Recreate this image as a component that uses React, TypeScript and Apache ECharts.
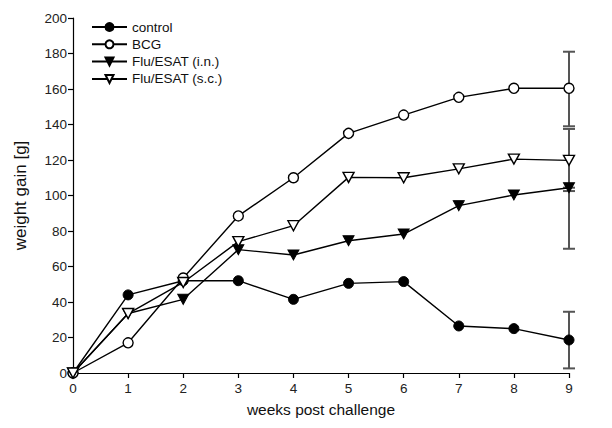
import React, { useEffect, useRef } from "react";
import * as echarts from "echarts";

const weeks = [0, 1, 2, 3, 4, 5, 6, 7, 8, 9];
const control = [0, 44, 52, 52, 41.5, 50.5, 51.5, 26.5, 25, 18.6];
const bcg = [0, 17, 53.5, 88.5, 110, 135, 145.3, 155.3, 160.4, 160.4];
const fluIn = [0, 33.5, 41.5, 69.5, 66.5, 74.5, 78.3, 94.3, 100.3, 104.4];
const fluSc = [0, 33.5, 51, 74, 83, 110.2, 110, 115, 120.5, 119.8];

// error bars at week 9: [week, low, high]
const errorBars = [
  [9, 2.6, 34.5],
  [9, 139, 181],
  [9, 102.5, 137.5],
  [9, 70, 104.4],
];

const seriesNames = ["control", "BCG", "Flu/ESAT (i.n.)", "Flu/ESAT (s.c.)"];
const yTicks = { min: 0, max: 200, interval: 20 };
const xTicks = { min: 0, max: 9, interval: 1 };

const FONT = "'Liberation Sans', Arial, Helvetica, sans-serif";
const DOWN_TRI = "path://M0,0L10,0L5,9Z";

const toPairs = (ys: number[]) => weeks.map((w, i) => [w, ys[i]]);

export default function App() {
  const ref = useRef<HTMLDivElement>(null);
  useEffect(() => {
    if (!ref.current) return;
    const chart = echarts.init(ref.current, undefined, { renderer: "svg" });
    const lineBase = {
      type: "line" as const,
      lineStyle: { color: "#000", width: 1.4 },
      z: 3,
    };
    chart.setOption({
      animation: false,
      backgroundColor: "#fff",
      textStyle: { fontFamily: FONT },
      grid: { left: 73, right: 43, top: 18, bottom: 55 },
      legend: {
        orient: "vertical",
        left: 86,
        top: 15,
        itemWidth: 35,
        itemHeight: 10,
        itemGap: 3.3,
        data: seriesNames,
        textStyle: { fontSize: 13.5, color: "#111", fontFamily: FONT, lineHeight: 14 },
      },
      xAxis: {
        type: "value",
        min: xTicks.min,
        max: xTicks.max,
        interval: xTicks.interval,
        name: "weeks post challenge",
        nameLocation: "middle",
        nameGap: 28,
        nameTextStyle: { fontSize: 15.5, color: "#111", fontFamily: FONT },
        axisLine: { lineStyle: { color: "#000", width: 1.2 } },
        axisTick: { inside: false, length: 5, lineStyle: { color: "#000", width: 1.2 } },
        axisLabel: { fontSize: 13.5, color: "#222", margin: 8, fontFamily: FONT },
        splitLine: { show: false },
      },
      yAxis: {
        type: "value",
        min: yTicks.min,
        max: yTicks.max,
        interval: yTicks.interval,
        name: "weight gain [g]",
        nameLocation: "middle",
        nameGap: 44,
        nameTextStyle: { fontSize: 17, color: "#111", fontFamily: FONT },
        axisLine: { show: true, lineStyle: { color: "#000", width: 1.2 } },
        axisTick: { show: true, inside: false, length: 5, lineStyle: { color: "#000", width: 1.2 } },
        axisLabel: { fontSize: 13.5, color: "#222", margin: 6, fontFamily: FONT },
        splitLine: { show: false },
      },
      series: [
        {
          type: "custom",
          name: "errors",
          z: 2,
          data: errorBars,
          renderItem: (params: any, api: any) => {
            const x = api.value(0);
            const lo = api.coord([x, api.value(1)]);
            const hi = api.coord([x, api.value(2)]);
            const w = 6;
            const style = { stroke: "#555", lineWidth: 2 };
            return {
              type: "group",
              children: [
                { type: "line", shape: { x1: lo[0], y1: lo[1], x2: hi[0], y2: hi[1] }, style },
                { type: "line", shape: { x1: lo[0] - w, y1: lo[1], x2: lo[0] + w, y2: lo[1] }, style },
                { type: "line", shape: { x1: hi[0] - w, y1: hi[1], x2: hi[0] + w, y2: hi[1] }, style },
              ],
            };
          },
        },
        {
          ...lineBase,
          name: seriesNames[0],
          data: toPairs(control),
          symbol: "circle",
          symbolSize: 10,
          itemStyle: { color: "#000", borderColor: "#000", borderWidth: 1 },
        },
        {
          ...lineBase,
          name: seriesNames[1],
          data: toPairs(bcg),
          symbol: "circle",
          symbolSize: 10,
          itemStyle: { color: "#fff", borderColor: "#000", borderWidth: 1.4 },
        },
        {
          ...lineBase,
          name: seriesNames[2],
          data: toPairs(fluIn),
          symbol: DOWN_TRI,
          symbolSize: [11, 10],
          itemStyle: { color: "#000", borderColor: "#000", borderWidth: 1 },
        },
        {
          ...lineBase,
          name: seriesNames[3],
          data: toPairs(fluSc),
          symbol: DOWN_TRI,
          symbolSize: [11, 10],
          itemStyle: { color: "#fff", borderColor: "#000", borderWidth: 1.4 },
        },
      ],
    });
    return () => chart.dispose();
  }, []);
  return (
    <div
      ref={ref}
      style={{ position: "fixed", left: 0, top: 0, width: 612, height: 428 }}
    />
  );
}
